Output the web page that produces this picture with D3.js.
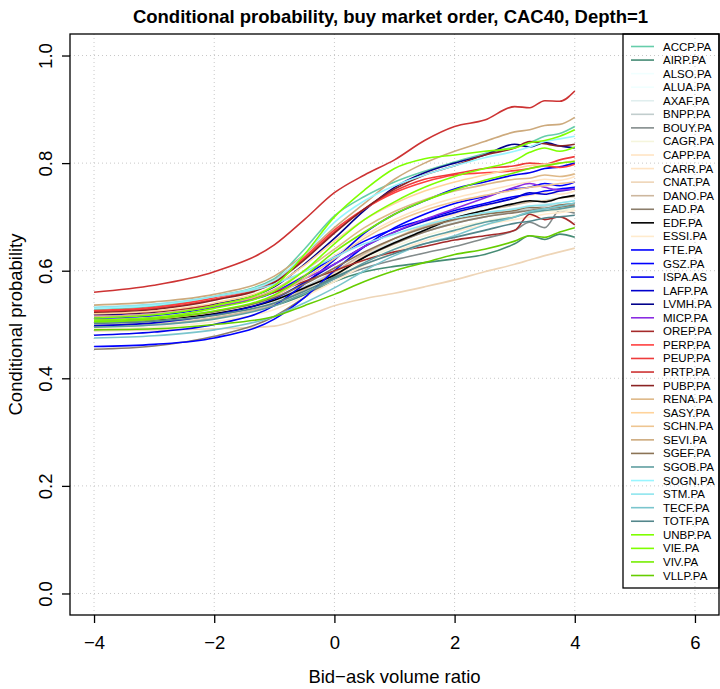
<!DOCTYPE html>
<html>
<head>
<meta charset="utf-8">
<script src="https://cdn.jsdelivr.net/npm/d3@7"></script>
<style>
  html, body { margin: 0; padding: 0; background: #fff; }
  svg { display: block; font-family: "Liberation Sans", Arial, Helvetica, sans-serif; }
</style>
</head>
<body>
<svg id="chart" width="720" height="689"></svg>
<script>
// ---------- data ----------
const chartTitle = "Conditional probability, buy market order, CAC40, Depth=1";
const xLabel = "Bid\u2212ask volume ratio";
const yLabel = "Conditional probability";
const xTicks = [-4, -2, 0, 2, 4, 6];
const yTicks = [0, 0.2, 0.4, 0.6, 0.8, 1.0];
const xGrid = [-4, -3, -2, -1, -0.5, 0, 0.5, 1, 1.5, 2, 2.5, 3, 3.25, 3.5, 3.75, 4];

const tickers = ["ACCP.PA","AIRP.PA","ALSO.PA","ALUA.PA","AXAF.PA","BNPP.PA","BOUY.PA","CAGR.PA","CAPP.PA","CARR.PA",
  "CNAT.PA","DANO.PA","EAD.PA","EDF.PA","ESSI.PA","FTE.PA","GSZ.PA","ISPA.AS","LAFP.PA","LVMH.PA",
  "MICP.PA","OREP.PA","PERP.PA","PEUP.PA","PRTP.PA","PUBP.PA","RENA.PA","SASY.PA","SCHN.PA","SEVI.PA",
  "SGEF.PA","SGOB.PA","SOGN.PA","STM.PA","TECF.PA","TOTF.PA","UNBP.PA","VIE.PA","VIV.PA","VLLP.PA"];

const seriesColors = ["#66CDAA","#458B74","#F0FFFF","#F0FFFF","#E0EEEE","#C1CDCD","#838B8B","#F5F5DC","#FFE4C4","#FFE4C4",
  "#EED5B7","#CDB79E","#8B7D6B","#000000","#FFEBCD","#0000FF","#0000FF","#0000EE","#0000CD","#00008B",
  "#8A2BE2","#A52A2A","#FF4040","#EE3B3B","#CD3333","#8B2323","#DEB887","#FFD39B","#EEC591","#CDAA7D",
  "#8B7355","#5F9EA0","#98F5FF","#8EE5EE","#7AC5CD","#53868B","#7FFF00","#7FFF00","#76EE00","#66CD00"];

const ACCP = [.528,.534,.552,.585,.640,.702,.738,.765,.785,.802,.818,.830,.838,.850,.855,.868];
const AIRP = [.500,.503,.513,.535,.555,.580,.598,.608,.615,.622,.630,.650,.665,.658,.668,.662];
const ALSO = [.505,.509,.520,.545,.570,.600,.630,.655,.675,.690,.702,.712,.716,.720,.722,.725];
const ALUA = [.510,.514,.526,.552,.578,.610,.642,.668,.688,.702,.715,.725,.730,.733,.736,.738];
const AXAF = [.502,.506,.518,.542,.568,.598,.630,.655,.676,.692,.705,.716,.720,.724,.726,.730];
const BNPP = [.510,.514,.525,.548,.570,.598,.628,.652,.672,.688,.700,.710,.715,.720,.722,.718];
const BOUY = [.500,.504,.515,.538,.560,.585,.605,.620,.633,.645,.660,.675,.690,.680,.712,.707];
const CAGR = [.498,.502,.512,.535,.560,.590,.620,.645,.665,.680,.692,.702,.706,.710,.712,.715];
const CAPP = [.500,.504,.515,.540,.565,.595,.630,.660,.685,.705,.720,.735,.740,.745,.742,.748];
const CARR = [.518,.522,.535,.562,.592,.628,.665,.695,.718,.735,.748,.760,.765,.770,.768,.775];
const CNAT = [.488,.490,.492,.497,.515,.535,.548,.558,.570,.583,.598,.612,.620,.628,.635,.642];
const DANO = [.496,.500,.512,.538,.565,.598,.632,.660,.682,.698,.712,.722,.728,.730,.735,.738];
const EAD  = [.454,.460,.478,.515,.550,.590,.625,.650,.672,.688,.700,.708,.712,.715,.718,.722];
const EDF  = [.505,.509,.520,.545,.568,.592,.625,.652,.675,.698,.712,.725,.730,.728,.735,.740];
const ESSI = [.492,.495,.505,.528,.552,.580,.610,.635,.655,.672,.685,.695,.700,.705,.708,.712];
const FTE  = [.459,.463,.475,.510,.550,.600,.645,.680,.705,.725,.738,.752,.755,.762,.758,.765];
const GSZ  = [.512,.517,.532,.560,.590,.625,.655,.678,.695,.712,.725,.738,.742,.748,.752,.755];
const ISPA = [.480,.486,.500,.535,.575,.620,.670,.705,.730,.752,.765,.778,.782,.790,.793,.800];
const LAFP = [.498,.503,.518,.548,.578,.612,.645,.672,.692,.708,.722,.735,.745,.742,.748,.752];
const LVMH = [.518,.523,.538,.570,.612,.660,.712,.755,.782,.800,.815,.835,.830,.838,.832,.828];
const MICP = [.515,.520,.533,.560,.585,.612,.645,.672,.695,.715,.735,.755,.762,.755,.750,.752];
const OREP = [.520,.524,.536,.560,.580,.600,.620,.635,.645,.657,.665,.675,.705,.695,.700,.685];
const PERP = [.526,.532,.550,.582,.625,.676,.715,.745,.765,.778,.782,.786,.790,.795,.792,.798];
const PEUP = [.524,.530,.547,.580,.622,.672,.715,.748,.770,.780,.790,.795,.800,.798,.806,.812];
const PRTP = [.560,.573,.598,.648,.695,.745,.778,.806,.842,.868,.880,.905,.903,.916,.915,.934];
const PUBP = [.522,.528,.545,.578,.620,.670,.715,.752,.778,.795,.815,.828,.840,.836,.832,.835];
const RENA = [.515,.520,.535,.565,.600,.640,.680,.710,.732,.748,.760,.770,.772,.778,.775,.780];
const SASY = [.520,.525,.540,.572,.610,.655,.695,.725,.748,.765,.778,.790,.795,.798,.800,.805];
const SCHN = [.505,.510,.524,.552,.585,.622,.660,.690,.712,.728,.740,.750,.755,.758,.762,.765];
const SEVI = [.536,.542,.556,.590,.630,.680,.725,.770,.800,.822,.840,.858,.862,.870,.872,.885];
const SGEF = [.508,.512,.524,.550,.575,.605,.635,.660,.680,.695,.705,.712,.718,.716,.722,.725];
const SGOB = [.495,.499,.510,.535,.558,.585,.615,.640,.660,.675,.690,.700,.708,.712,.715,.720];
const SOGN = [.530,.536,.552,.582,.630,.690,.730,.758,.778,.795,.810,.822,.830,.840,.845,.850];
const STM  = [.532,.538,.552,.575,.598,.625,.650,.668,.685,.698,.708,.715,.720,.722,.726,.730];
const TECF = [.475,.479,.490,.515,.540,.568,.600,.628,.650,.665,.685,.700,.710,.715,.720,.726];
const TOTF = [.502,.506,.517,.540,.562,.588,.612,.632,.650,.662,.675,.688,.692,.698,.700,.703];
const UNBP = [.512,.518,.535,.572,.630,.700,.750,.790,.808,.815,.822,.828,.838,.842,.850,.862];
const VIE  = [.508,.513,.530,.562,.600,.650,.695,.728,.755,.775,.790,.805,.820,.828,.822,.830];
const VIV  = [.505,.510,.525,.555,.590,.635,.672,.705,.730,.750,.768,.782,.790,.795,.800,.803];
const VLLP = [.490,.492,.500,.515,.535,.556,.580,.600,.615,.630,.640,.655,.665,.662,.672,.680];

const seriesValues = [ACCP,AIRP,ALSO,ALUA,AXAF,BNPP,BOUY,CAGR,CAPP,CARR,CNAT,DANO,EAD,EDF,ESSI,FTE,GSZ,ISPA,LAFP,LVMH,
  MICP,OREP,PERP,PEUP,PRTP,PUBP,RENA,SASY,SCHN,SEVI,SGEF,SGOB,SOGN,STM,TECF,TOTF,UNBP,VIE,VIV,VLLP];

// ---------- layout ----------
const svg = d3.select("#chart");
const plot = { left: 70, right: 719, top: 34, bottom: 615 };
const FONT = "Liberation Sans, Arial, sans-serif";

const x = d3.scaleLinear().domain([-4.4, 6.4]).range([plot.left, plot.right]);
const y = d3.scaleLinear().domain([-0.04, 1.04]).range([plot.bottom, plot.top]);

// grid
const grid = svg.append("g").attr("stroke", "#c8c8c8").attr("stroke-width", 1).attr("stroke-dasharray", "1,3");
grid.selectAll("line.v").data(xTicks).join("line")
  .attr("x1", d => x(d)).attr("x2", d => x(d)).attr("y1", plot.top).attr("y2", plot.bottom);
grid.selectAll("line.h").data(yTicks).join("line")
  .attr("y1", d => y(d)).attr("y2", d => y(d)).attr("x1", plot.left).attr("x2", plot.right);

// lines
const line = d3.line().x((d, i) => x(xGrid[i])).y(d => y(d)).curve(d3.curveMonotoneX);
svg.append("g").attr("fill", "none").attr("stroke-width", 1.6)
  .selectAll("path").data(seriesValues).join("path")
  .attr("stroke", (d, i) => seriesColors[i])
  .attr("d", d => line(d));

// box
svg.append("rect").attr("x", plot.left).attr("y", plot.top)
  .attr("width", plot.right - plot.left).attr("height", plot.bottom - plot.top)
  .attr("fill", "none").attr("stroke", "#000").attr("stroke-width", 1.3);

// axes
const xAxis = svg.append("g").attr("transform", `translate(0,${plot.bottom})`)
  .call(d3.axisBottom(x).tickValues(xTicks).tickSize(8).tickPadding(13).tickFormat(d => d < 0 ? "\u2212" + Math.abs(d) : String(d)));
xAxis.select(".domain").remove();
xAxis.selectAll("line").attr("stroke", "#000").attr("stroke-width", 1.3);
xAxis.selectAll("text").attr("font-size", 18.5).attr("fill", "#000").attr("font-family", FONT);

const yAxis = svg.append("g").attr("transform", `translate(${plot.left},0)`)
  .call(d3.axisLeft(y).tickValues(yTicks).tickSize(8).tickFormat(d3.format(".1f")));
yAxis.select(".domain").remove();
yAxis.selectAll("line").attr("stroke", "#000").attr("stroke-width", 1.3);
yAxis.selectAll("text")
  .attr("font-size", 18.5).attr("fill", "#000").attr("font-family", FONT)
  .attr("x", null).attr("dy", null)
  .attr("text-anchor", "middle")
  .attr("transform", "translate(-25,0) rotate(-90)")
  .attr("dominant-baseline", "central");

// titles
svg.append("text").attr("x", (plot.left + plot.right) / 2 - 4).attr("y", 23)
  .attr("text-anchor", "middle").attr("font-size", 18.5).attr("font-weight", "bold").text(chartTitle);
svg.append("text").attr("x", (plot.left + plot.right) / 2).attr("y", 683)
  .attr("text-anchor", "middle").attr("font-size", 18.5).text(xLabel);
svg.append("text").attr("transform", `translate(22,${(plot.top + plot.bottom) / 2}) rotate(-90)`)
  .attr("text-anchor", "middle").attr("font-size", 18.5).text(yLabel);

// legend
const leg = { left: 623, top: 34, bottom: 588, right: 719 };
svg.append("rect").attr("x", leg.left).attr("y", leg.top)
  .attr("width", leg.right - leg.left).attr("height", leg.bottom - leg.top)
  .attr("fill", "none").attr("stroke", "#000").attr("stroke-width", 1.3);
const legY = d3.scalePoint().domain(tickers).range([46.5, 575.5]);
const items = svg.append("g").selectAll("g").data(tickers).join("g")
  .attr("transform", d => `translate(0,${legY(d)})`);
items.append("line").attr("x1", 631).attr("x2", 654).attr("y1", 0).attr("y2", 0)
  .attr("stroke", (d, i) => seriesColors[i]).attr("stroke-width", 1.6);
items.append("text").attr("x", 663).attr("y", 0).attr("dominant-baseline", "central")
  .attr("font-size", 11.5).attr("fill", "#000").text(d => d);
</script>
</body>
</html>
